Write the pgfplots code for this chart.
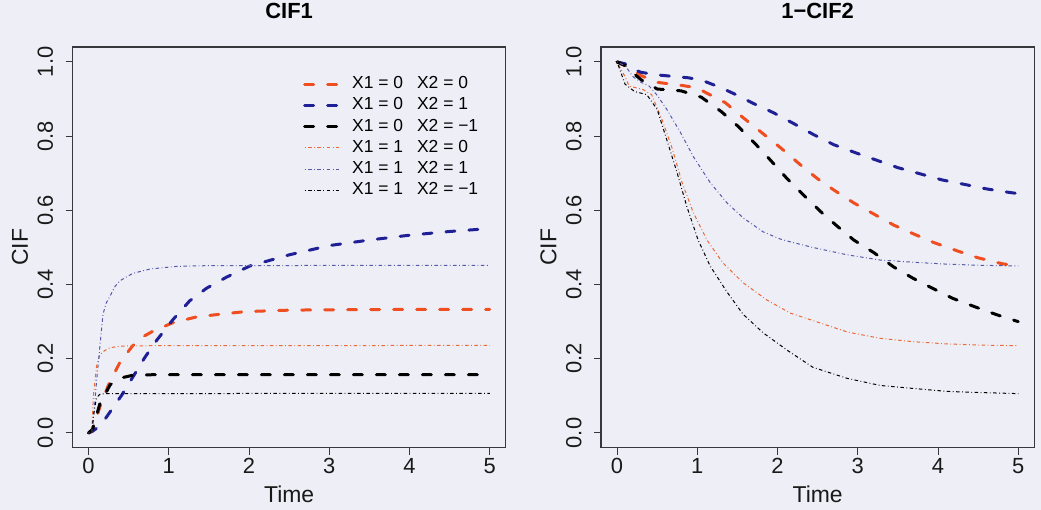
\documentclass[border=0pt]{standalone}
\usepackage{fontspec}
\setmainfont{Liberation Sans}
\usepackage{pgfplots}
\pgfplotsset{compat=1.18}
\definecolor{bg}{RGB}{238,238,247}
\definecolor{axgray}{RGB}{55,55,60}
\definecolor{cor}{RGB}{238,78,32}
\definecolor{cbl}{RGB}{32,32,150}
\definecolor{cor2}{RGB}{235,105,50}
\definecolor{cbl2}{RGB}{85,90,170}
\pgfplotsset{
  mystyle/.style={
    scale only axis, width=433.3bp, height=400.7bp,
    xmin=-0.2, xmax=5.2, ymin=-0.04, ymax=1.04,
    xtick={0,1,2,3,4,5}, ytick={0,0.2,0.4,0.6,0.8,1.0},
    tick align=outside, tick pos=left,
    major tick length=7bp,
    every tick/.style={line width=1bp, color=axgray},
    axis line style={line width=1.2bp, color=axgray},
    /pgf/number format/assume math mode=true,
    tick label style={font=\fontsize{22}{26}\selectfont, text=black!90},
    y tick label style={rotate=90, anchor=south, /pgf/number format/.cd, fixed, fixed zerofill, precision=1},
    yticklabel shift=9bp,
    label style={font=\fontsize{23}{27}\selectfont, text=black!90},
    xlabel style={at={(axis description cs:0.5,-0.115)}, anchor=center},
    ylabel style={at={(axis description cs:-0.121,0.5)}, anchor=center},
    title style={font=\bfseries\fontsize{22}{26}\selectfont, at={(axis description cs:0.5,1.075)}, anchor=center},
    xlabel={Time}, ylabel={CIF},
    thickd/.style={line width=3bp, line cap=round, dash pattern=on 9bp off 14bp},
    thind/.style={line width=1bp, line join=round, dash pattern=on 0.8bp off 2.5bp on 3.5bp off 2.5bp},
  }
}
\begin{document}
\begin{tikzpicture}[x=1bp,y=1bp]
\path[use as bounding box, fill=bg] (0,0) rectangle (1041,510);
\begin{axis}[mystyle, at={(72.5bp,62.2bp)}, anchor=south west, title={CIF1},
  legend image code/.code={\draw[#1] (0bp,0bp) -- (36bp,0bp);},
  legend cell align=left,
  legend style={draw=none, fill=none, at={(axis description cs:0.532,0.929)}, anchor=north west,
    font=\fontsize{17.5}{21}\selectfont, row sep=4.2bp, column sep=10bp, inner sep=0pt,
    nodes={inner sep=0pt, text height=13bp, text depth=4bp}},
]
\addplot[cor, thickd] coordinates {(0,0) (0.05,0.005) (0.14,0.07) (0.25,0.13) (0.39,0.19) (0.55,0.235) (0.7,0.262) (0.81,0.275) (1.05,0.297) (1.35,0.313) (1.64,0.32) (1.95,0.327) (2.5,0.331) (3,0.332) (4,0.333) (5,0.333)};
\addlegendentry{X1 = 0\hspace{14bp}X2 = 0}
\addplot[cbl, thickd] coordinates {(0,0) (0.05,0.005) (0.15,0.02) (0.24,0.048) (0.42,0.104) (0.55,0.15) (0.7,0.203) (0.85,0.25) (1.05,0.305) (1.26,0.356) (1.47,0.39) (1.72,0.42) (2.01,0.45) (2.5,0.48) (3,0.505) (3.5,0.52) (4,0.533) (4.5,0.543) (5,0.551)};
\addlegendentry{X1 = 0\hspace{14bp}X2 = 1}
\addplot[black, thickd] coordinates {(0,0) (0.05,0.01) (0.14,0.078) (0.27,0.13) (0.4,0.148) (0.54,0.155) (0.8,0.157) (1,0.157) (5,0.157)};
\addlegendentry{X1 = 0\hspace{14bp}X2 = −1}
\addplot[cor2, thind] coordinates {(0,0) (0.04,0.0) (0.06,0.1) (0.1,0.18) (0.14,0.21) (0.2,0.222) (0.27,0.23) (0.4,0.234) (0.6,0.235) (5,0.236)};
\addlegendentry{X1 = 1\hspace{14bp}X2 = 0}
\addplot[cbl2, thind] coordinates {(0,0) (0.04,0.0) (0.07,0.06) (0.1,0.14) (0.14,0.23) (0.18,0.32) (0.22,0.35) (0.27,0.37) (0.33,0.395) (0.39,0.41) (0.55,0.43) (0.77,0.442) (1.1,0.449) (1.5,0.451) (5,0.452)};
\addlegendentry{X1 = 1\hspace{14bp}X2 = 1}
\addplot[black, thind] coordinates {(0,0) (0.04,0) (0.07,0.06) (0.1,0.095) (0.14,0.104) (0.2,0.106) (5,0.107)};
\addlegendentry{X1 = 1\hspace{14bp}X2 = −1}
\end{axis}
\begin{axis}[mystyle, at={(601bp,62.2bp)}, anchor=south west, title={1−CIF2}]
\addplot[cor, thickd] coordinates {(0,1.0) (0.1,0.99) (0.2,0.975) (0.3,0.963) (0.5,0.945) (0.8,0.937) (1.0,0.93) (1.1,0.918) (1.35,0.89) (1.57,0.85) (1.8,0.81) (2.03,0.77) (2.3,0.72) (2.5,0.685) (2.7,0.655) (2.95,0.62) (3.2,0.59) (3.45,0.56) (3.7,0.536) (3.95,0.513) (4.25,0.49) (4.5,0.472) (4.8,0.456) (5.0,0.45)};
\addplot[cbl, thickd] coordinates {(0,1.0) (0.1,0.995) (0.2,0.98) (0.3,0.972) (0.5,0.965) (0.7,0.961) (0.9,0.957) (1.1,0.947) (1.3,0.93) (1.5,0.91) (1.7,0.888) (1.95,0.863) (2.2,0.834) (2.45,0.804) (2.7,0.777) (3.0,0.753) (3.25,0.734) (3.5,0.715) (3.8,0.697) (4.05,0.682) (4.35,0.669) (4.6,0.658) (4.8,0.651) (5.0,0.645)};
\addplot[black, thickd] coordinates {(0,1.0) (0.1,0.99) (0.2,0.97) (0.3,0.952) (0.5,0.927) (0.8,0.922) (1.05,0.905) (1.3,0.866) (1.5,0.828) (1.72,0.78) (1.9,0.738) (2.1,0.69) (2.32,0.642) (2.53,0.598) (2.74,0.558) (2.95,0.52) (3.2,0.486) (3.45,0.447) (3.68,0.418) (3.93,0.39) (4.18,0.363) (4.46,0.34) (4.74,0.318) (5.0,0.30)};
\addplot[cor2, thind] coordinates {(0,1.0) (0.1,0.96) (0.15,0.935) (0.32,0.926) (0.43,0.912) (0.56,0.845) (0.69,0.765) (0.81,0.675) (0.95,0.594) (1.12,0.52) (1.32,0.458) (1.57,0.405) (1.87,0.358) (2.16,0.323) (2.44,0.303) (2.87,0.272) (3.28,0.255) (3.69,0.246) (4.11,0.24) (4.5,0.237) (5.0,0.235)};
\addplot[cbl2, thind] coordinates {(0,1.0) (0.1,0.99) (0.2,0.96) (0.3,0.945) (0.4,0.935) (0.5,0.91) (0.62,0.872) (0.79,0.81) (0.95,0.745) (1.16,0.675) (1.37,0.62) (1.57,0.58) (1.82,0.542) (2.03,0.523) (2.16,0.515) (2.44,0.50) (2.87,0.48) (3.28,0.466) (3.7,0.46) (4.11,0.455) (4.5,0.452) (5.0,0.45)};
\addplot[black, thind] coordinates {(0,1.0) (0.05,0.97) (0.1,0.94) (0.22,0.92) (0.37,0.912) (0.5,0.872) (0.62,0.79) (0.75,0.70) (0.87,0.61) (1.01,0.52) (1.16,0.45) (1.37,0.38) (1.57,0.32) (1.82,0.27) (2.12,0.223) (2.44,0.177) (2.87,0.147) (3.28,0.128) (3.69,0.12) (4.11,0.112) (4.5,0.109) (5.0,0.106)};
\end{axis}
\end{tikzpicture}
\end{document}
